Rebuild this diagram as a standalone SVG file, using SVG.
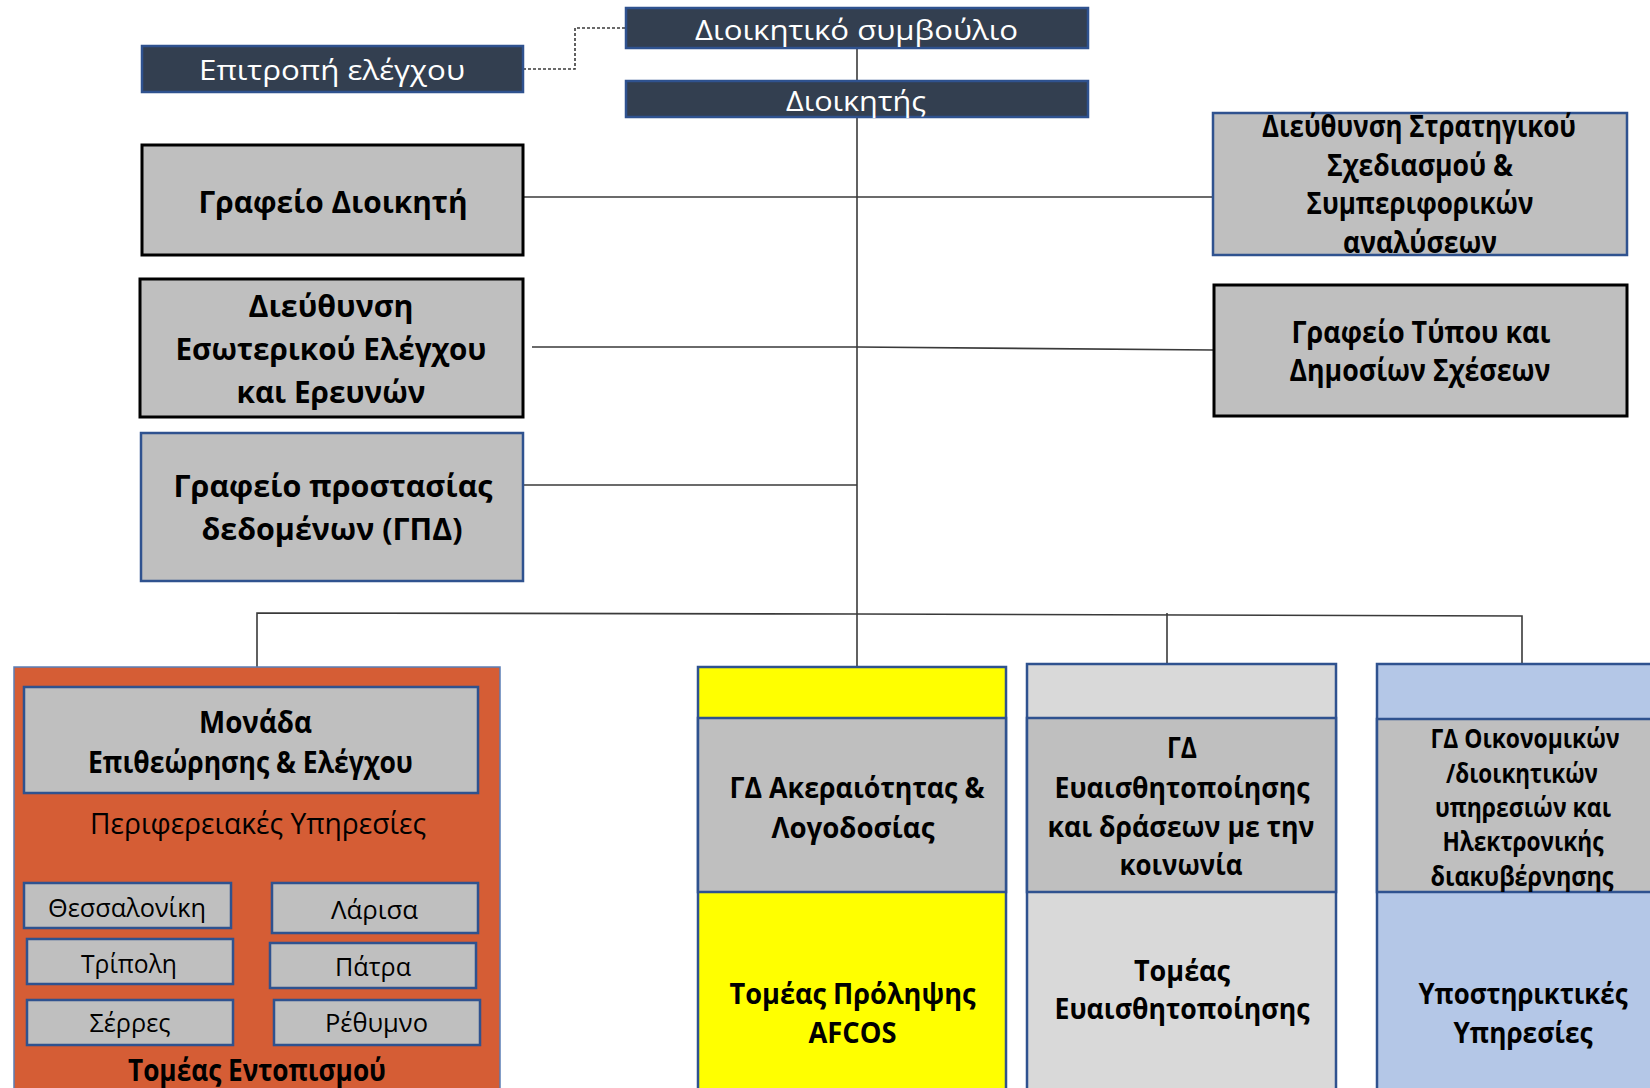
<svg xmlns="http://www.w3.org/2000/svg" width="1650" height="1088" viewBox="0 0 1650 1088">
<style>
text{font-family:"Open Sans","Noto Sans","DejaVu Sans",sans-serif;text-anchor:middle;fill:#000}
.w{fill:#fff;font-size:28px}
.b{font-weight:bold;font-size:31px}
.c{font-weight:bold;font-size:29px}
.s{font-weight:bold;font-size:26px}
.r{font-size:26px}
.p{font-size:29px}
.navy{fill:#333F50;stroke:#2F528F;stroke-width:2.5}
.gk{fill:#BFBFBF;stroke:#000;stroke-width:3}
.gb{fill:#BFBFBF;stroke:#2F528F;stroke-width:2.5}
.ln{fill:none;stroke:#3a3a3a;stroke-width:1.6}
</style>
<g id="connectors">
<polyline class="ln" points="523,69 575,69 575,28 626,28" stroke-dasharray="3,2"/>
<line class="ln" x1="857" y1="48" x2="857" y2="667"/>
<line class="ln" x1="523" y1="197" x2="1213" y2="197"/>
<polyline class="ln" points="532,347 857,347 1213,350"/>
<line class="ln" x1="523" y1="485" x2="857" y2="485"/>
<polyline class="ln" points="257,667 257,613 857,614 1522,616 1522,664"/>
<line class="ln" x1="1167" y1="613" x2="1167" y2="664"/>
</g>
<g id="epitropi">
<rect class="navy" x="142" y="46" width="381" height="46"/>
<text class="w" x="332" y="80" textLength="266" lengthAdjust="spacingAndGlyphs">Επιτροπή ελέγχου</text>
</g>
<g id="symvoulio">
<rect class="navy" x="626" y="8" width="462" height="40"/>
<text class="w" x="856.5" y="40" textLength="323" lengthAdjust="spacingAndGlyphs">Διοικητικό συμβούλιο</text>
</g>
<g id="dioikitis">
<rect class="navy" x="626" y="81" width="462" height="36"/>
<text class="w" x="856" y="111" textLength="140" lengthAdjust="spacingAndGlyphs">Διοικητής</text>
</g>
<g id="grafeio-dioikiti">
<rect class="gk" x="142" y="145" width="381" height="110"/>
<text class="b" x="333" y="213" textLength="269" lengthAdjust="spacingAndGlyphs">Γραφείο Διοικητή</text>
</g>
<g id="strategic">
<rect class="gb" x="1213" y="113" width="414" height="142"/>
<text class="b" x="1419" y="137" textLength="314" lengthAdjust="spacingAndGlyphs">Διεύθυνση Στρατηγικού</text>
<text class="b" x="1420" y="176" textLength="186" lengthAdjust="spacingAndGlyphs">Σχεδιασμού &amp;</text>
<text class="b" x="1420" y="214" textLength="227" lengthAdjust="spacingAndGlyphs">Συμπεριφορικών</text>
<text class="b" x="1420" y="253" textLength="154" lengthAdjust="spacingAndGlyphs">αναλύσεων</text>
</g>
<g id="esoterikos">
<rect class="gk" x="140" y="279" width="383" height="138"/>
<text class="b" x="331" y="317" textLength="165" lengthAdjust="spacingAndGlyphs">Διεύθυνση</text>
<text class="b" x="331" y="360" textLength="311" lengthAdjust="spacingAndGlyphs">Εσωτερικού Ελέγχου</text>
<text class="b" x="331" y="403" textLength="189" lengthAdjust="spacingAndGlyphs">και Ερευνών</text>
</g>
<g id="typos">
<rect class="gk" x="1214" y="285" width="413" height="131"/>
<text class="b" x="1421" y="343" textLength="259" lengthAdjust="spacingAndGlyphs">Γραφείο Τύπου και</text>
<text class="b" x="1420" y="381" textLength="261" lengthAdjust="spacingAndGlyphs">Δημοσίων Σχέσεων</text>
</g>
<g id="gpd">
<rect class="gb" x="141" y="433" width="382" height="148"/>
<text class="b" x="333" y="497" textLength="319" lengthAdjust="spacingAndGlyphs">Γραφείο προστασίας</text>
<text class="b" x="332" y="540" textLength="261" lengthAdjust="spacingAndGlyphs">δεδομένων (ΓΠΔ)</text>
</g>
<g id="entopismos">
<rect x="14" y="667" width="486" height="430" fill="#D55D35" stroke="#5B7DB5" stroke-width="1.5"/>
<rect class="gb" x="24" y="687" width="454" height="106"/>
<text class="b" x="255.5" y="733" textLength="113" lengthAdjust="spacingAndGlyphs">Μονάδα</text>
<text class="b" x="250.5" y="773" textLength="325" lengthAdjust="spacingAndGlyphs">Επιθεώρησης &amp; Ελέγχου</text>
<text class="p" x="258" y="834" textLength="336" lengthAdjust="spacingAndGlyphs">Περιφερειακές Υπηρεσίες</text>
<rect class="gb" x="24" y="883" width="207" height="45"/>
<text class="r" x="127" y="917" textLength="158" lengthAdjust="spacingAndGlyphs">Θεσσαλονίκη</text>
<rect class="gb" x="272" y="883" width="206" height="50"/>
<text class="r" x="374.5" y="919" textLength="87" lengthAdjust="spacingAndGlyphs">Λάρισα</text>
<rect class="gb" x="27" y="939" width="206" height="45"/>
<text class="r" x="129" y="973" textLength="96" lengthAdjust="spacingAndGlyphs">Τρίπολη</text>
<rect class="gb" x="270" y="943" width="206" height="45"/>
<text class="r" x="373" y="976" textLength="76" lengthAdjust="spacingAndGlyphs">Πάτρα</text>
<rect class="gb" x="27" y="1000" width="206" height="45"/>
<text class="r" x="130" y="1032" textLength="81" lengthAdjust="spacingAndGlyphs">Σέρρες</text>
<rect class="gb" x="274" y="1000" width="206" height="45"/>
<text class="r" x="376.5" y="1032" textLength="103" lengthAdjust="spacingAndGlyphs">Ρέθυμνο</text>
<text class="b" x="257" y="1081" textLength="258" lengthAdjust="spacingAndGlyphs">Τομέας Εντοπισμού</text>
</g>
<g id="akeraiotita">
<rect x="698" y="667" width="308" height="430" fill="#FFFF00" stroke="#2F528F" stroke-width="2.5"/>
<rect class="gb" x="698" y="718" width="308" height="174"/>
<text class="c" x="857" y="798" textLength="255" lengthAdjust="spacingAndGlyphs">ΓΔ Ακεραιότητας &amp;</text>
<text class="c" x="853" y="838" textLength="163" lengthAdjust="spacingAndGlyphs">Λογοδοσίας</text>
<text class="c" x="852.5" y="1004" textLength="246" lengthAdjust="spacingAndGlyphs">Τομέας Πρόληψης</text>
<text class="c" x="852.5" y="1043" textLength="88" lengthAdjust="spacingAndGlyphs">AFCOS</text>
</g>
<g id="evaisthitopoiisi">
<rect x="1027" y="664" width="309" height="433" fill="#D9D9D9" stroke="#2F528F" stroke-width="2.5"/>
<rect class="gb" x="1027" y="718" width="309" height="174"/>
<text class="c" x="1182" y="758" textLength="30" lengthAdjust="spacingAndGlyphs">ΓΔ</text>
<text class="c" x="1182" y="798" textLength="255" lengthAdjust="spacingAndGlyphs">Ευαισθητοποίησης</text>
<text class="c" x="1181" y="837" textLength="267" lengthAdjust="spacingAndGlyphs">και δράσεων με την</text>
<text class="c" x="1181" y="875" textLength="123" lengthAdjust="spacingAndGlyphs">κοινωνία</text>
<text class="c" x="1182" y="981" textLength="96" lengthAdjust="spacingAndGlyphs">Τομέας</text>
<text class="c" x="1182" y="1019" textLength="255" lengthAdjust="spacingAndGlyphs">Ευαισθητοποίησης</text>
</g>
<g id="oikonomikon">
<rect x="1377" y="664" width="290" height="433" fill="#B4C7E7" stroke="#2F528F" stroke-width="2.5"/>
<rect class="gb" x="1377" y="719" width="290" height="173"/>
<text class="s" x="1525" y="748" textLength="189" lengthAdjust="spacingAndGlyphs">ΓΔ Οικονομικών</text>
<text class="s" x="1522" y="783" textLength="152" lengthAdjust="spacingAndGlyphs">/διοικητικών</text>
<text class="s" x="1523" y="817" textLength="176" lengthAdjust="spacingAndGlyphs">υπηρεσιών και</text>
<text class="s" x="1523" y="851" textLength="161" lengthAdjust="spacingAndGlyphs">Ηλεκτρονικής</text>
<text class="s" x="1522" y="886" textLength="183" lengthAdjust="spacingAndGlyphs">διακυβέρνησης</text>
<text class="c" x="1523" y="1004" textLength="209" lengthAdjust="spacingAndGlyphs">Υποστηρικτικές</text>
<text class="c" x="1523" y="1043" textLength="139" lengthAdjust="spacingAndGlyphs">Υπηρεσίες</text>
</g>
</svg>
